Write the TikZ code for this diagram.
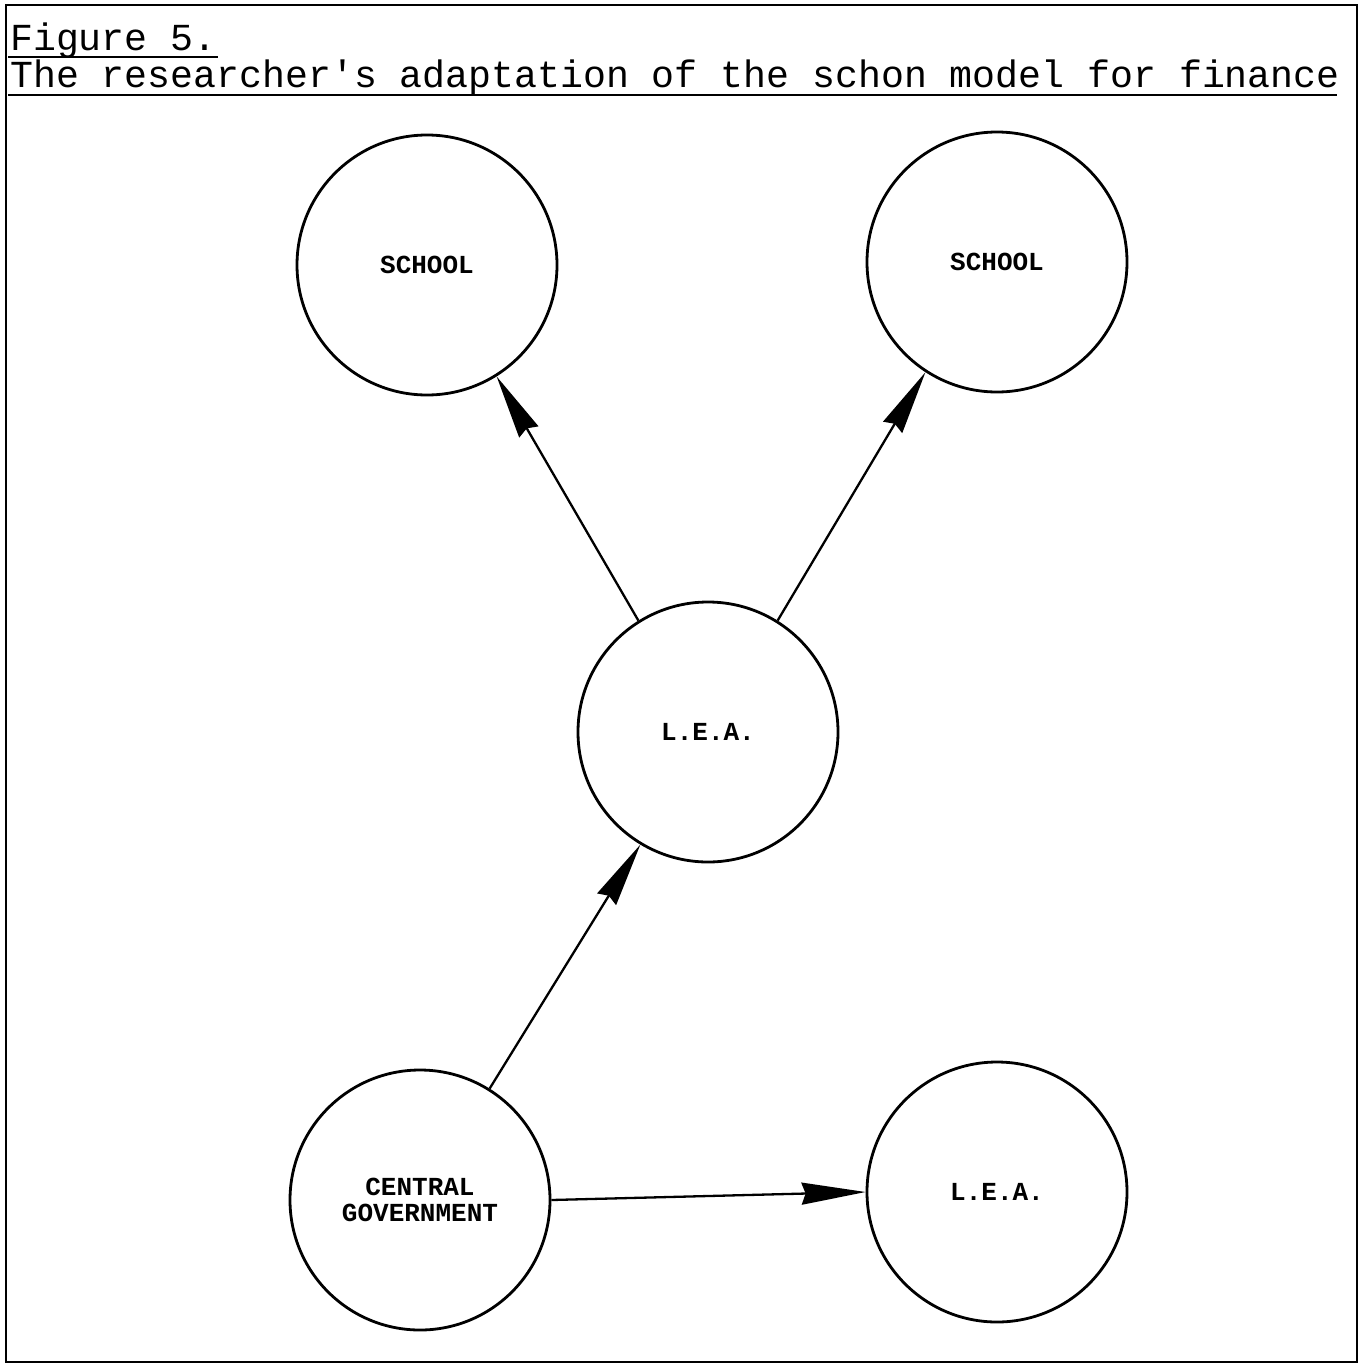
\documentclass[tikz,border=0pt]{standalone}
\usepackage{fontspec}
\setmonofont{Liberation Mono}
\newfontfamily\labelfont{Liberation Mono}
\usetikzlibrary{arrows.meta}
\begin{document}
\begin{tikzpicture}[x=1pt,y=-1pt,
  unit/.style={circle,draw,line width=2.8pt,minimum size=260pt,inner sep=0pt,
    font=\labelfont\bfseries\fontsize{26}{30}\selectfont,align=center},
  flow/.style={line width=2.3pt,-{Stealth[length=64pt,width=22pt,inset=4pt]}},
  titletext/.style={anchor=base west,inner sep=0pt,font=\ttfamily\fontsize{38.2}{40}\selectfont}]
\useasboundingbox (0,0) rectangle (1361,1365);
% frame
\draw[line width=2.8pt] (6,5) rectangle (1357,1362);
% title
\node[titletext] (t1) at (10,50) {Figure 5.};
\node[titletext] (t2) at (10,87) {The researcher's adaptation of the schon model for finance};
\draw[line width=2.2pt] (8,57) -- (218,57);
\draw[line width=2.2pt] (8,95) -- (1337,95);
% nodes
\node[unit] (s1) at (427,265) {SCHOOL};
\node[unit] (s2) at (997,262) {SCHOOL};
\node[unit] (lea) at (708,732) {L.E.A.};
\node[unit] (cg) at (420,1200) {CENTRAL\\[-4pt]GOVERNMENT};
\node[unit] (lea2) at (997,1192) {L.E.A.};
% connectors
\draw[flow] (lea.122) -- (s1.302);
\draw[flow] (lea.58) -- (s2.237);
\draw[flow] (cg.58) -- (lea.239);
\draw[flow] (cg.east) -- (lea2.west);
\end{tikzpicture}
\end{document}
